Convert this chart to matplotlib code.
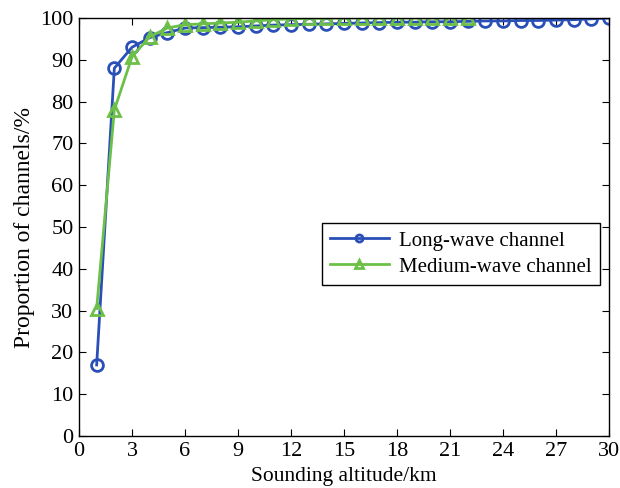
import matplotlib
matplotlib.use('Agg')
from matplotlib import pyplot as plt

plt.rcParams['font.family'] = ['Liberation Serif', 'DejaVu Serif']

altitude_long = list(range(1, 31))
long_wave = [17.0, 88.0, 93.0, 95.3, 96.5, 97.6, 97.7, 97.8, 97.9, 98.1,
             98.3, 98.4, 98.5, 98.6, 98.7, 98.8, 98.9, 99.0, 99.0, 99.1,
             99.1, 99.2, 99.3, 99.3, 99.4, 99.4, 99.5, 99.6, 99.8, 100.0]

altitude_medium = list(range(1, 23))
medium_wave = [30.5, 78.0, 90.7, 95.5, 97.6, 98.4, 98.6, 98.8, 99.0, 99.3,
               99.6, 99.8, 99.9, 99.9, 100.0, 100.0, 100.0, 100.0, 100.0, 100.0,
               100.0, 100.0]

labels = ['Long-wave channel', 'Medium-wave channel']
colours = ['#2a50b8', '#6cc048']

fig = plt.figure(figsize=(6.2, 4.88), dpi=100)
ax = fig.add_axes([79 / 620, 52 / 488, 530 / 620, 418 / 488])

ax.plot(altitude_long, long_wave, color=colours[0], marker='o', markersize=8.5,
        markerfacecolor='none', markeredgewidth=2, linewidth=2, label=labels[0])
ax.plot(altitude_medium, medium_wave, color=colours[1], marker='^', markersize=8.5,
        markerfacecolor='none', markeredgewidth=2, linewidth=2, label=labels[1])

ax.set_xlim(0, 30)
ax.set_ylim(0, 100)
ax.set_xticks(range(0, 31, 3))
ax.set_yticks(range(0, 101, 10))
ax.tick_params(direction='in', labelsize=16, length=5, top=True, right=True, pad=4)
for side in ax.spines.values():
    side.set_linewidth(1.0)
ax.set_xlabel('Sounding altitude/km', fontsize=15.5, labelpad=5)
ax.set_ylabel('Proportion of channels/%', fontsize=17, labelpad=4)

leg = ax.legend(loc='upper right', bbox_to_anchor=(0.983, 0.51), fontsize=15,
                fancybox=False, framealpha=1, edgecolor='black',
                handlelength=2.8, handletextpad=0.5, borderpad=0.4,
                labelspacing=0.3, markerscale=0.6, borderaxespad=0)
leg.get_frame().set_linewidth(1.0)

plt.savefig('out.png', dpi=100)
plt.close()
